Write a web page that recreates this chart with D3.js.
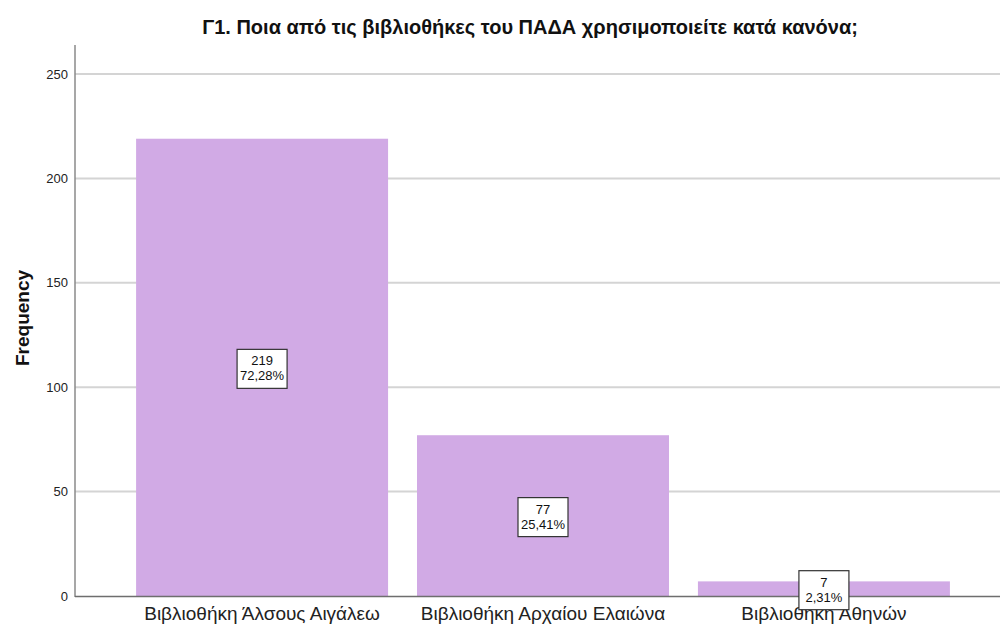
<!DOCTYPE html>
<html>
<head>
<meta charset="utf-8" />
<title>Γ1</title>
<script src="https://cdn.jsdelivr.net/npm/d3@7"></script>
<style>
body { margin: 0; background: #fff; }
svg text { font-family: "Liberation Sans", Arial, sans-serif; }
</style>
</head>
<body>
<div id="chart"></div>
<script>
const categories = ["Βιβλιοθήκη Άλσους Αιγάλεω", "Βιβλιοθήκη Αρχαίου Ελαιώνα", "Βιβλιοθήκη Αθηνών"];
const counts = [219, 77, 7];
const percents = ["72,28%", "25,41%", "2,31%"];
const yTicks = [0, 50, 100, 150, 200, 250];

const width = 1000, height = 629;
const svg = d3.select("#chart").append("svg")
	.attr("width", width)
	.attr("height", height);

const x = d3.scaleBand()
	.domain(categories)
	.range([108, 978])
	.paddingInner(0.103)
	.paddingOuter(0.1);
const y = d3.scaleLinear().domain([0, 250]).range([596, 74]);

// grid
svg.append("g").selectAll("line")
	.data(yTicks.filter(d => d > 0))
	.enter().append("line")
		.attr("x1", 75).attr("x2", 1000)
		.attr("y1", d => y(d)).attr("y2", d => y(d))
		.attr("stroke", "#d4d4d4").attr("stroke-width", 2);

// bars
svg.append("g").selectAll("rect")
	.data(categories)
	.enter().append("rect")
		.attr("x", d => x(d))
		.attr("width", x.bandwidth())
		.attr("y", (d, i) => y(counts[i]))
		.attr("height", (d, i) => y(0) - y(counts[i]))
		.attr("fill", "#d1aae5");

// axes lines
svg.append("line").attr("x1", 75).attr("x2", 75).attr("y1", 45).attr("y2", 597)
	.attr("stroke", "#8a8a8a").attr("stroke-width", 1.5);
svg.append("line").attr("x1", 75).attr("x2", 1000).attr("y1", 596.5).attr("y2", 596.5)
	.attr("stroke", "#6e6e6e").attr("stroke-width", 1.5);

// y tick labels
svg.append("g").selectAll("text")
	.data(yTicks)
	.enter().append("text")
		.attr("x", 68)
		.attr("y", d => y(d) + 4.5)
		.attr("text-anchor", "end")
		.attr("font-size", 13)
		.attr("fill", "#222")
		.text(d => d);

// x labels
svg.append("g").selectAll("text")
	.data(categories)
	.enter().append("text")
		.attr("x", d => x(d) + x.bandwidth() / 2)
		.attr("y", 620)
		.attr("text-anchor", "middle")
		.attr("font-size", 19)
		.attr("fill", "#222")
		.text(d => d);

// value labels
const lab = svg.append("g").selectAll("g")
	.data(categories)
	.enter().append("g")
		.attr("transform", (d, i) => "translate(" + (x(d) + x.bandwidth() / 2) + "," + y(counts[i] / 2) + ")");
lab.append("rect")
	.attr("x", -25).attr("y", -18)
	.attr("width", 50).attr("height", 39)
	.attr("fill", "#fff").attr("stroke", "#333").attr("stroke-width", 1.2);
lab.append("text")
	.attr("y", -2)
	.attr("text-anchor", "middle")
	.attr("font-size", 13)
	.attr("fill", "#111")
	.text((d, i) => counts[i]);
lab.append("text")
	.attr("y", 13)
	.attr("text-anchor", "middle")
	.attr("font-size", 13)
	.attr("fill", "#111")
	.text((d, i) => percents[i]);

// title
svg.append("text")
	.attr("x", 530).attr("y", 34)
	.attr("text-anchor", "middle")
	.attr("font-size", 20)
	.attr("font-weight", "bold")
	.attr("fill", "#111")
	.text("Γ1. Ποια από τις βιβλιοθήκες του ΠΑΔΑ χρησιμοποιείτε κατά κανόνα;");

// y label
svg.append("text")
	.attr("transform", "translate(29,318) rotate(-90)")
	.attr("text-anchor", "middle")
	.attr("font-size", 19)
	.attr("font-weight", "bold")
	.attr("fill", "#111")
	.text("Frequency");
</script>
</body>
</html>
